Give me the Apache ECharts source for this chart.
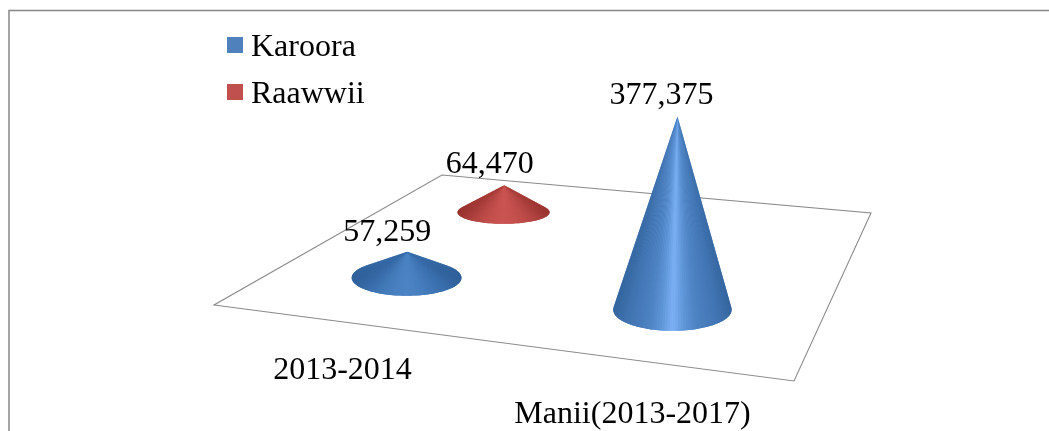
<!DOCTYPE html>
<html>
<head>
<meta charset="utf-8">
<style>
    html, body { margin: 0; padding: 0; background: #fff; }
    #main { width: 1049px; height: 431px; }
</style>
<script src="https://cdn.jsdelivr.net/npm/echarts@6/dist/echarts.min.js"></script>
</head>
<body>
<div id="main"></div>
<script>
var categories = ['2013-2014', 'Manii(2013-2017)'];
var karoora = [57259, 377375];
var raawwii = [64470, null];

// floor of the 3d chart: front left, front right, back right, back left
var floor = [[214, 305], [794, 381], [871, 213], [442, 175]];
var seriesDepth = [0.32, 0.796];
var seriesSkew = [0, 0.01];
var labelDrop = [58, 64];
// value label offset from the cone tip, per series and category
var labelShift = [[[-20, -3], [-16, -5]], [[-14.5, -5], [-16, -5]]];
var axisY = 800000;

var karooraShades = ['#35669f', '#4073b1', '#477bba', '#4e84c4', '#5f96d8', '#7bb1f4', '#5e95d7', '#4d83c3', '#467ab9', '#3f72ae', '#34659d'];
var karooraLow = ['#2f6099', '#386dab', '#4076b6', '#477fbf', '#4c84c4', '#4880c0', '#4178b6', '#386ca9', '#30619a'];
var raawwiiLow = ['#9a3531', '#ae423f', '#bc4b48', '#c5514e', '#ca5552', '#c5514e', '#bb4a47', '#ab403d', '#983430'];

var fontName = '"Liberation Serif", "Times New Roman", serif';
var chart = echarts.init(document.getElementById('main'));

function floorPoint(u, v) {
    var fx = floor[0][0] + (floor[1][0] - floor[0][0]) * u;
    var fy = floor[0][1] + (floor[1][1] - floor[0][1]) * u;
    var bx = floor[3][0] + (floor[2][0] - floor[3][0]) * u;
    var by = floor[3][1] + (floor[2][1] - floor[3][1]) * u;
    return [fx + (bx - fx) * v, fy + (by - fy) * v];
}

function gradientOf(shades) {
    var stops = [];
    for (var i = 0; i < shades.length; i++) {
        stops.push({offset: i / (shades.length - 1), color: shades[i]});
    }
    return new echarts.graphic.LinearGradient(0, 0, 1, 0, stops);
}

function coneItem(seriesIdx, tallShades, lowShades) {
    return function (params, api) {
        var sys = params.coordSys;
        var idx = api.value(0);
        var val = api.value(1);
        var x = api.coord([idx, 0])[0];
        var u = (x - sys.x) / sys.width - 0.025 + seriesSkew[seriesIdx];
        var v = seriesDepth[seriesIdx];
        var c = floorPoint(u, v);

        // everything gets smaller towards the back of the floor
        var rx = 46 + 0.135 * (c[1] - 212);
        var ry = 11.5 + 0.099 * (c[1] - 212);
        var h = api.size([0, val])[1] * (0.842 + 0.212 * u - 0.144 * v);
        var apex = [c[0] + h * 0.026, c[1] - h];

        var shades = h > 100 ? tallShades : lowShades;
        var t0 = Math.asin(-Math.min(1, ry / h));
        var steps = 72;
        var outline = [apex];
        var slices = [];
        // the cone is a fan of thin slices so the shine runs up to the tip
        for (var i = 0; i < steps; i++) {
            var t1 = t0 + (Math.PI - 2 * t0) * i / steps;
            var t2 = t0 + (Math.PI - 2 * t0) * (i + 1) / steps;
            var p1 = [c[0] + rx * Math.cos(t1), c[1] + ry * Math.sin(t1)];
            var p2 = [c[0] + rx * Math.cos(t2), c[1] + ry * Math.sin(t2)];
            outline.push(p1);
            slices.push({
                type: 'polygon',
                shape: {points: [apex, p1, p2]},
                style: {fill: echarts.color.lerp((1 - Math.cos((t1 + t2) / 2)) / 2, shades)}
            });
        }
        outline.push([c[0] + rx * Math.cos(Math.PI - t0), c[1] + ry * Math.sin(Math.PI - t0)]);

        // shaded cone underneath so the seams between slices do not show
        var kids = [{
            type: 'polygon',
            shape: {points: outline},
            style: {fill: gradientOf(shades)}
        }].concat(slices);

        var shift = labelShift[seriesIdx][idx];
        kids.push({
            type: 'text',
            style: {
                text: echarts.format.addCommas(val),
                x: apex[0] + shift[0],
                y: apex[1] + shift[1],
                fill: '#000',
                font: '32px ' + fontName,
                textAlign: 'center',
                textVerticalAlign: 'bottom'
            }
        });
        return {type: 'group', children: kids};
    };
}

function categoryItem(params, api) {
    var sys = params.coordSys;
    var idx = api.value(0);
    var u = (api.coord([idx, 0])[0] - sys.x) / sys.width - 0.025;
    var p = floorPoint(u, 0);
    return {
        type: 'text',
        style: {
            text: categories[idx],
            x: p[0] - 2,
            y: p[1] + labelDrop[idx] + 6,
            fill: '#000',
            font: '32px ' + fontName,
            textAlign: 'center',
            textVerticalAlign: 'bottom'
        }
    };
}

function toData(list) {
    var out = [];
    for (var i = 0; i < list.length; i++) {
        if (list[i] != null) {
            out.push([i, list[i]]);
        }
    }
    return out;
}

var option = {
    animation: false,
    backgroundColor: '#fff',
    grid: {left: 199.5, width: 580, top: 0, height: 431},
    xAxis: {type: 'category', data: categories, show: false},
    yAxis: {type: 'value', min: 0, max: axisY, show: false},
    legend: {
        orient: 'vertical',
        left: 222,
        top: 27,
        icon: 'rect',
        itemWidth: 16,
        itemHeight: 16,
        itemGap: 15,
        data: ['Karoora', 'Raawwii'],
        formatter: '{n|{name}}',
        textStyle: {
            fontFamily: fontName,
            fontSize: 32,
            color: '#000',
            rich: {
                n: {fontFamily: fontName, fontSize: 32, color: '#000', padding: [6, 0, 0, 3]}
            }
        }
    },
    graphic: [
        {
            type: 'polyline',
            silent: true,
            z: -1,
            shape: {points: [[9, 431], [9, 10.5], [1049, 10.5]]},
            style: {stroke: '#868686', lineWidth: 1.5, fill: null}
        },
        {
            type: 'polygon',
            silent: true,
            z: -1,
            shape: {points: floor},
            style: {stroke: '#8a8a8a', lineWidth: 1.1, fill: null}
        }
    ],
    series: [
        {
            name: 'Raawwii',
            type: 'custom',
            z: 2,
            itemStyle: {color: '#c0504d'},
            renderItem: coneItem(1, raawwiiLow, raawwiiLow),
            data: toData(raawwii)
        },
        {
            name: 'Karoora',
            type: 'custom',
            z: 3,
            itemStyle: {color: '#4f81bd'},
            renderItem: coneItem(0, karooraShades, karooraLow),
            data: toData(karoora)
        },
        {
            type: 'custom',
            z: 1,
            silent: true,
            renderItem: categoryItem,
            data: [[0, 0], [1, 0]]
        }
    ]
};

chart.setOption(option);
</script>
</body>
</html>
